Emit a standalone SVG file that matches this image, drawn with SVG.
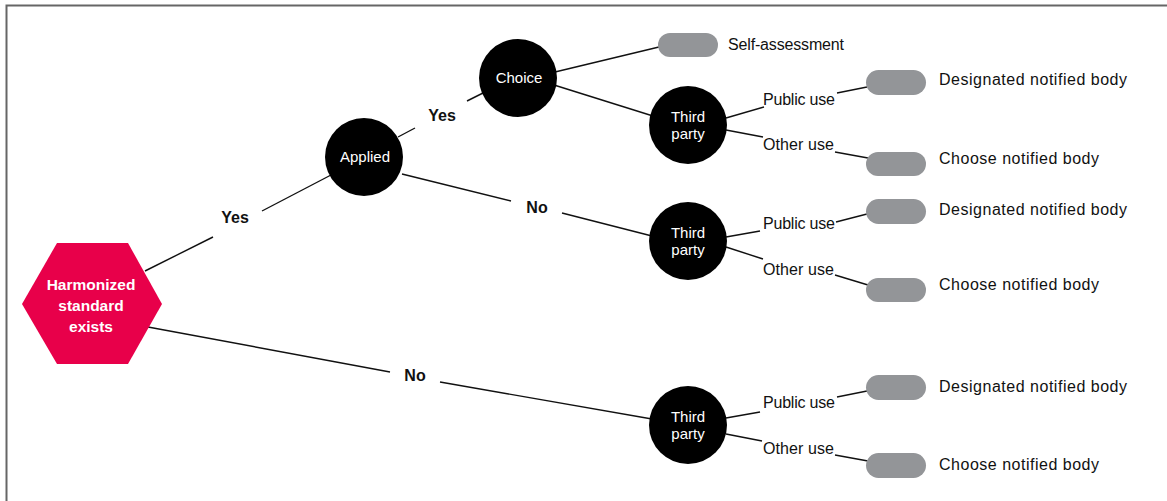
<svg xmlns="http://www.w3.org/2000/svg" width="1167" height="501" viewBox="0 0 1167 501">
<style>
.ln{stroke:#111;stroke-width:1.4;fill:none}
.dec{font-family:"Liberation Sans",Arial,sans-serif;font-weight:bold;font-size:16px;fill:#111;text-anchor:middle;dominant-baseline:central}
.cir{fill:#000}
.ct{font-family:"Liberation Sans",Arial,sans-serif;font-size:15px;fill:#fff;text-anchor:middle}
.pill{fill:#939598}
.lbl{font-family:"Liberation Sans",Arial,sans-serif;font-size:16px;fill:#111}
.hx{font-family:"Liberation Sans",Arial,sans-serif;font-weight:bold;font-size:15.5px;fill:#fff;text-anchor:middle}
</style>
<rect width="1167" height="501" fill="#fff"/>
<path d="M6.5,501 V5.5 H1167" stroke="#666" stroke-width="2" fill="none"/>
<g id="connectors">
<line class="ln" x1="145" y1="271" x2="213" y2="237"/>
<line class="ln" x1="262" y1="211" x2="331" y2="175"/>
<line class="ln" x1="148" y1="327" x2="390" y2="372"/>
<line class="ln" x1="440" y1="382" x2="652" y2="419"/>
<line class="ln" x1="398" y1="137" x2="415" y2="128"/>
<line class="ln" x1="467" y1="101" x2="483" y2="93"/>
<line class="ln" x1="402" y1="174" x2="511" y2="201"/>
<line class="ln" x1="562" y1="213" x2="652" y2="236"/>
<line class="ln" x1="555" y1="72" x2="659" y2="47"/>
<line class="ln" x1="554" y1="85" x2="653" y2="116"/>
<line class="ln" x1="726" y1="118" x2="764" y2="107"/>
<line class="ln" x1="837" y1="93" x2="867" y2="87"/>
<line class="ln" x1="726" y1="130" x2="763" y2="137"/>
<line class="ln" x1="835" y1="152" x2="868" y2="158"/>
<line class="ln" x1="726" y1="237" x2="760" y2="231"/>
<line class="ln" x1="836" y1="222" x2="867" y2="214"/>
<line class="ln" x1="726" y1="247" x2="763" y2="259"/>
<line class="ln" x1="835" y1="275" x2="868" y2="285"/>
<line class="ln" x1="726" y1="418" x2="760" y2="412"/>
<line class="ln" x1="837" y1="397" x2="867" y2="391"/>
<line class="ln" x1="726" y1="434" x2="762" y2="441"/>
<line class="ln" x1="835" y1="455" x2="868" y2="461"/>
<text class="dec" x="235" y="217">Yes</text>
<text class="dec" x="415" y="375">No</text>
<text class="dec" x="442" y="115">Yes</text>
<text class="dec" x="537" y="207">No</text>
</g>
<g id="hex">
<polygon points="22,304 57,243 128,243 162,304 128,364 57,364" fill="#e8004a"/>
<text class="hx" x="91" y="290">Harmonized</text>
<text class="hx" x="91" y="311">standard</text>
<text class="hx" x="91" y="332">exists</text>
</g>
<g id="applied"><circle class="cir" cx="364" cy="157" r="39"/><text class="ct" x="365" y="162">Applied</text></g>
<g id="choice"><circle class="cir" cx="518" cy="78" r="39"/><text class="ct" x="519" y="83">Choice</text></g>
<g id="third1"><circle class="cir" cx="688" cy="125" r="39"/><text class="ct" x="688" y="122">Third</text><text class="ct" x="688" y="139">party</text></g>
<g id="third2"><circle class="cir" cx="688" cy="241" r="39"/><text class="ct" x="688" y="238">Third</text><text class="ct" x="688" y="255">party</text></g>
<g id="third3"><circle class="cir" cx="688" cy="425" r="39"/><text class="ct" x="688" y="422">Third</text><text class="ct" x="688" y="439">party</text></g>
<g id="uses">
<text class="lbl" x="763" y="105" textLength="72">Public use</text>
<text class="lbl" x="763" y="150" textLength="71">Other use</text>
<text class="lbl" x="763" y="229" textLength="72">Public use</text>
<text class="lbl" x="763" y="275" textLength="71">Other use</text>
<text class="lbl" x="763" y="408" textLength="72">Public use</text>
<text class="lbl" x="763" y="454" textLength="71">Other use</text>
</g>
<g id="self"><rect class="pill" x="658" y="33" width="60" height="24" rx="12"/><text class="lbl" x="728" y="50" textLength="116">Self-assessment</text></g>
<g id="dnb1"><rect class="pill" x="866" y="70" width="60" height="25" rx="12.5"/><text class="lbl" x="939" y="85" textLength="188">Designated notified body</text></g>
<g id="cnb1"><rect class="pill" x="866" y="152" width="60" height="24" rx="12"/><text class="lbl" x="939" y="164" textLength="160">Choose notified body</text></g>
<g id="dnb2"><rect class="pill" x="866" y="199" width="60" height="25" rx="12.5"/><text class="lbl" x="939" y="215" textLength="188">Designated notified body</text></g>
<g id="cnb2"><rect class="pill" x="866" y="278" width="60" height="24" rx="12"/><text class="lbl" x="939" y="290" textLength="160">Choose notified body</text></g>
<g id="dnb3"><rect class="pill" x="866" y="375" width="60" height="25" rx="12.5"/><text class="lbl" x="939" y="392" textLength="188">Designated notified body</text></g>
<g id="cnb3"><rect class="pill" x="866" y="453" width="60" height="25" rx="12.5"/><text class="lbl" x="939" y="470" textLength="160">Choose notified body</text></g>
</svg>
